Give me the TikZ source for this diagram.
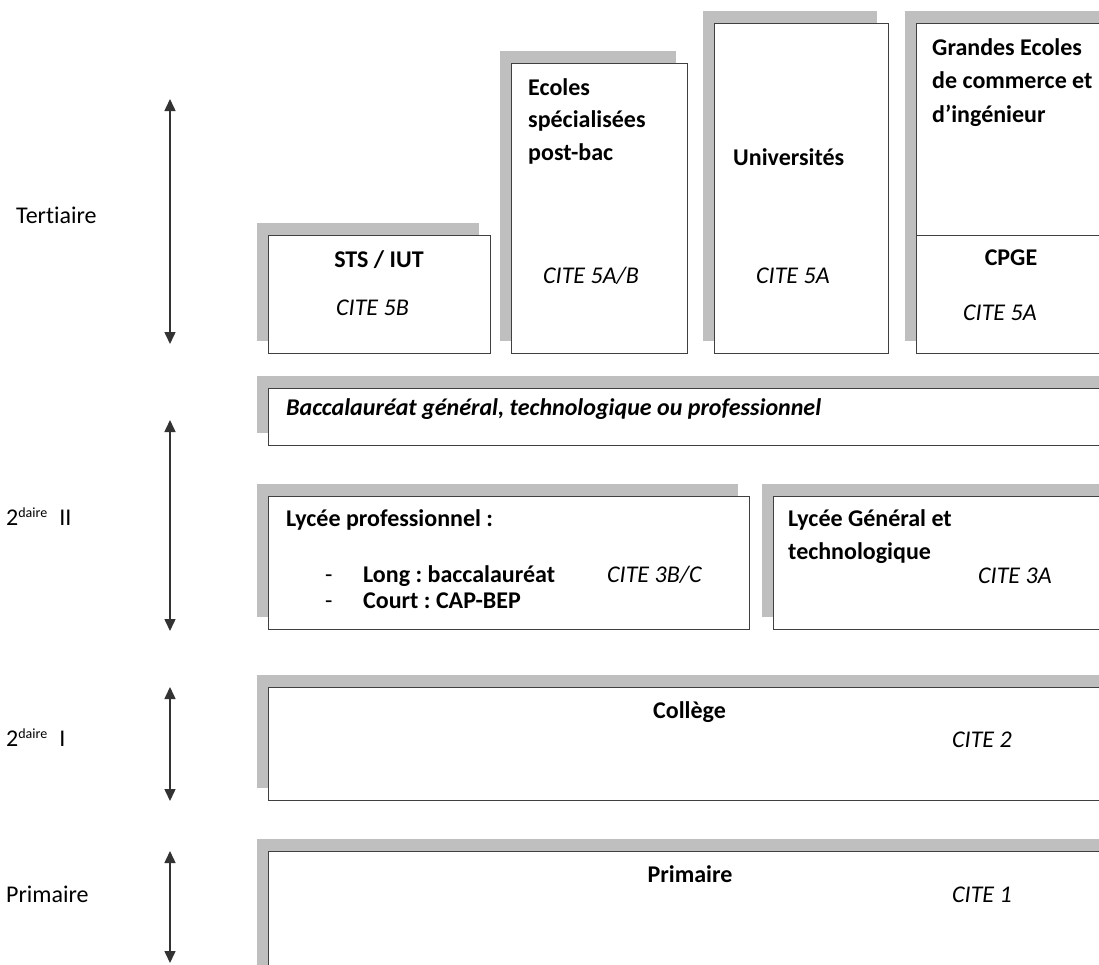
\documentclass[tikz,border=0pt]{standalone}
\usepackage{fontspec}
\setmainfont{Carlito}[Ligatures=NoCommon]
\usepackage{tikz}
\usetikzlibrary{arrows.meta, shadows, positioning}
\frenchspacing
\newcommand{\daire}{\raisebox{8pt}{\fontsize{14}{14}\selectfont daire}}
\tikzset{
    level/.style={rectangle, draw=black!75, line width=1.2pt, fill=white, anchor=north west, inner sep=0pt,
        general shadow={fill=black!25, shadow xshift=-12pt, shadow yshift=13pt}},
    inner/.style={rectangle, draw=black!75, line width=1.2pt, fill=white, anchor=north west, inner sep=0pt},
    title/.style={font=\fontsize{24}{28}\selectfont\bfseries, inner sep=0pt, anchor=base west},
    cite/.style={font=\fontsize{24}{28}\selectfont\itshape, inner sep=0pt, anchor=base west},
    side/.style={font=\fontsize{24}{28}\selectfont, inner sep=0pt, anchor=base west},
    span/.style={{Triangle[width=11pt,length=12pt]}-{Triangle[width=11pt,length=12pt]}, line width=1.5pt, draw=black!80}
}

\begin{document}
\begin{tikzpicture}[x=1pt, y=-1pt]
        \useasboundingbox (0,0) rectangle (1099,964);
        \clip (0,0) rectangle (1099,964);

        % Boxes
        \node[level, minimum width=222pt, minimum height=118pt] (sts) at (268,235) {};
        \node[level, minimum width=176pt, minimum height=290pt] (esp) at (511,63) {};
        \node[level, minimum width=174pt, minimum height=330pt] (univ) at (714,23) {};
        \node[level, minimum width=220pt, minimum height=330pt] (gec) at (916,23) {};
        \node[inner, minimum width=220pt, minimum height=118pt] (cpge) at (916,235) {};
        \node[level, minimum width=900pt, minimum height=57pt] (bac) at (268,388) {};
        \node[level, minimum width=481pt, minimum height=133pt] (lpro) at (268,496) {};
        \node[level, minimum width=400pt, minimum height=133pt] (lgt) at (773,496) {};
        \node[level, minimum width=900pt, minimum height=113pt] (col) at (268,687) {};
        \node[level, minimum width=900pt, minimum height=200pt] (prim) at (268,851) {};

        % Texts in the boxes
        \node[title, anchor=base] (stsT) at (379,267) {STS / IUT};
        \node[cite] (stsC) at (336,315) {CITE 5B};
        \node[title] (espA) at (528,95) {Ecoles};
        \node[title] (espB) at (528,127) {spécialisées};
        \node[title] (espC) at (528,160) {post-bac};
        \node[cite] (espD) at (543,283) {CITE 5A/B};
        \node[title] (univT) at (733,165) {Universités};
        \node[cite] (univC) at (756,283) {CITE 5A};
        \node[title] (gecA) at (932,55) {Grandes Ecoles};
        \node[title] (gecB) at (932,88) {de commerce et};
        \node[title] (gecC) at (932,122) {d’ingénieur};
        \node[title, anchor=base] (cpgeT) at (1011,265) {CPGE};
        \node[cite] (cpgeC) at (963,320) {CITE 5A};
        \node[title, font=\fontsize{24}{28}\selectfont\bfseries\itshape] (bacT) at (286,415) {Baccalauréat général, technologique ou professionnel};
        \node[title] (lproT) at (286,526) {Lycée professionnel :};
        \node[side] (lproA) at (325,582) {-};
        \node[title] (lproB) at (363,582) {Long : baccalauréat};
        \node[side] (lproC) at (325,608) {-};
        \node[title] (lproD) at (363,608) {Court : CAP-BEP};
        \node[cite] (lproE) at (607,582) {CITE 3B/C};
        \node[title] (lgtA) at (788,526) {Lycée Général et};
        \node[title] (lgtB) at (788,559) {technologique};
        \node[cite] (lgtC) at (978,583) {CITE 3A};
        \node[title] (colT) at (653,718) {Collège};
        \node[cite] (colC) at (952,747) {CITE 2};
        \node[title, anchor=base] (primT) at (690,882) {Primaire};
        \node[cite] (primC) at (952,902) {CITE 1};

        % Levels on the left
        \node[side] (tert) at (16,223) {Tertiaire};
        \node[side] (sec2) at (6,525) {2\daire\hspace{12pt}II};
        \node[side] (sec1) at (6,746) {2\daire\hspace{12pt}I};
        \node[side] (prm) at (6,902) {Primaire};

        % Arrows
        \coordinate (tertTop) at (170,99);
        \coordinate (tertBot) at (170,344);
        \coordinate (sec2Top) at (170,420);
        \coordinate (sec2Bot) at (170,631);
        \coordinate (sec1Top) at (170,687);
        \coordinate (sec1Bot) at (170,801);
        \coordinate (prmTop) at (170,851);
        \coordinate (prmBot) at (170,963);
        \draw[span] (tertTop) -- (tertBot);
        \draw[span] (sec2Top) -- (sec2Bot);
        \draw[span] (sec1Top) -- (sec1Bot);
        \draw[span] (prmTop) -- (prmBot);

    \end{tikzpicture}
\end{document}
